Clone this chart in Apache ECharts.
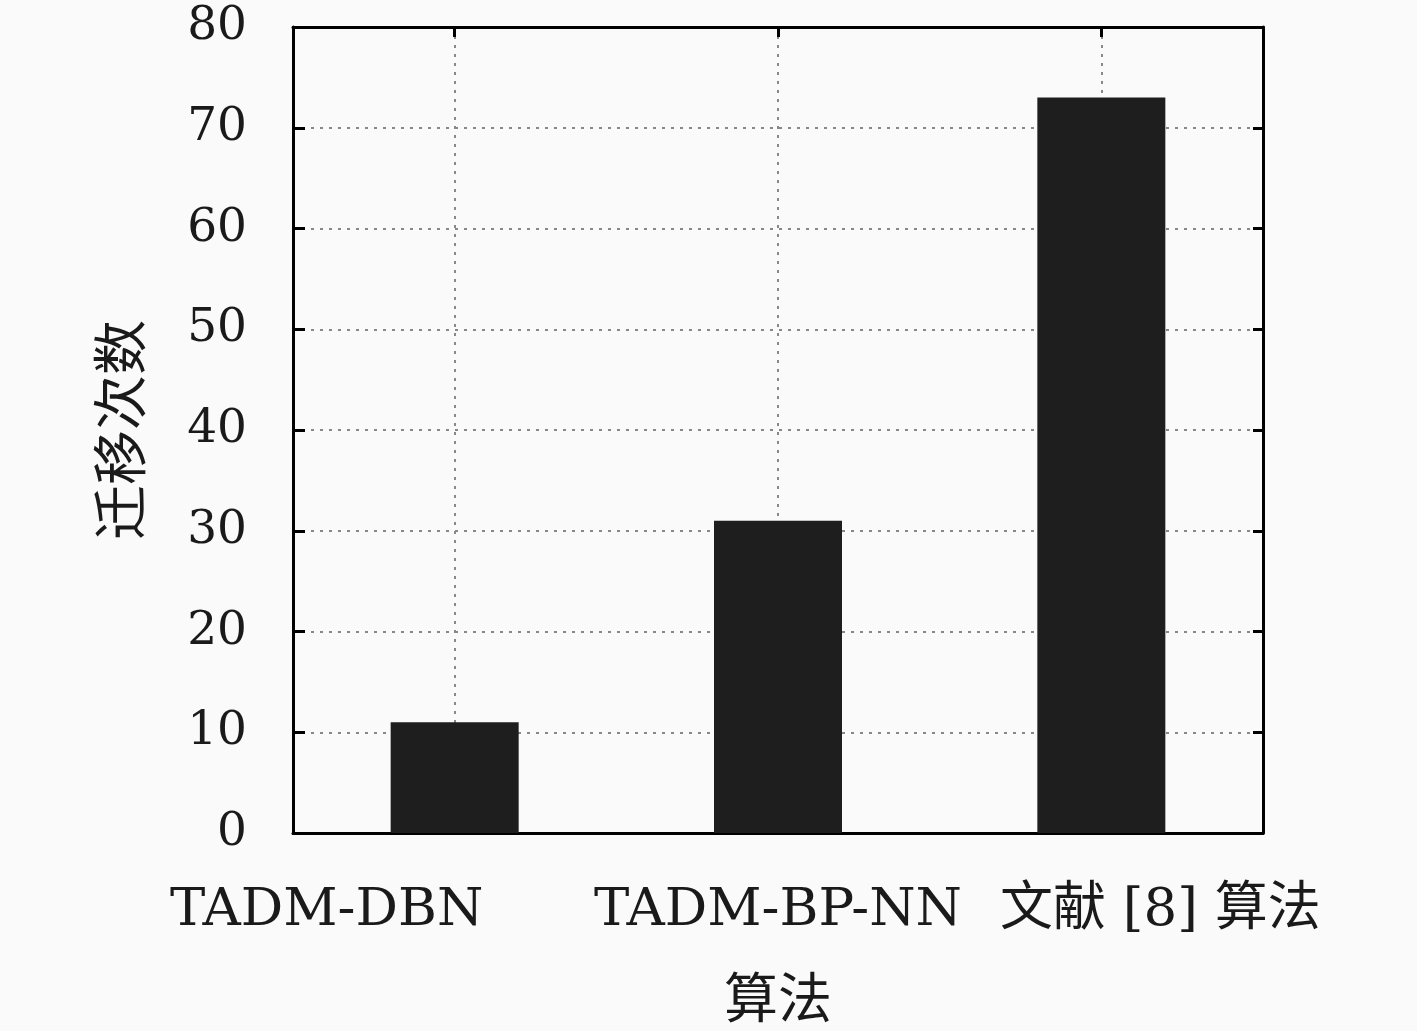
<!DOCTYPE html>
<html>
<head>
<meta charset="UTF-8">
<title>迁移次数</title>
<script src="https://cdn.jsdelivr.net/npm/echarts@6/dist/echarts.min.js"></script>
<style>
  html, body { margin: 0; padding: 0; background: #fafafa; }
  #chart { width: 1417px; height: 1031px; }
</style>
</head>
<body>
<div id="chart"></div>
<script>
// data
var categories = ['TADM-DBN', 'TADM-BP-NN', '文献 [8] 算法'];
var counts = [11, 31, 73];
var yTicks = [0, 80, 10]; // min, max, interval

var serif = '"DejaVu Serif", "Liberation Serif", "Noto Sans CJK SC", serif';

var chart = echarts.init(document.getElementById('chart'));

// nudge the outer labels the way the original figure places them
var labelPads = [[0, 256, 0, 0], [0, 0, 0, 0], [0, 0, 0, 118]];
var catData = categories.map(function (c, i) {
  return { value: c, textStyle: { padding: labelPads[i] } };
});

var option = {
  backgroundColor: '#fafafa',
  animation: false,
  grid: { left: 293, right: 154, top: 27, bottom: 198, outerBoundsMode: 'none', containLabel: false },
  xAxis: [{
    type: 'category',
    data: catData,
    name: '算法',
    nameLocation: 'middle',
    nameGap: 144,
    nameTextStyle: { fontFamily: serif, fontSize: 54, color: '#1a1a1a' },
    axisLine: { show: true, onZero: false, lineStyle: { color: '#000', width: 3 } },
    axisTick: { show: true, inside: true, alignWithLabel: true, length: 10, lineStyle: { color: '#000', width: 3 } },
    axisLabel: { interval: 0, margin: 52, fontFamily: serif, fontSize: 53, color: '#1a1a1a' },
    splitLine: { show: true, alignWithLabel: true, lineStyle: { color: '#888', type: [3, 6], width: 2 } }
  }, {
    type: 'category',
    position: 'top',
    data: categories,
    axisLine: { show: true, onZero: false, lineStyle: { color: '#000', width: 3 } },
    axisTick: { show: true, inside: true, alignWithLabel: true, length: 10, lineStyle: { color: '#000', width: 3 } },
    axisLabel: { show: false },
    splitLine: { show: false }
  }],
  yAxis: [{
    type: 'value',
    min: yTicks[0],
    max: yTicks[1],
    interval: yTicks[2],
    name: '迁移次数',
    nameLocation: 'middle',
    nameGap: 140,
    nameRotate: 90,
    nameTextStyle: { fontFamily: serif, fontSize: 55, color: '#1a1a1a' },
    axisLine: { show: true, onZero: false, lineStyle: { color: '#000', width: 3 } },
    axisTick: { show: true, inside: true, length: 12, lineStyle: { color: '#000', width: 3 } },
    axisLabel: { margin: 46, fontFamily: serif, fontSize: 47, color: '#1a1a1a' },
    splitLine: { show: true, lineStyle: { color: '#888', type: [3, 6], width: 2 } }
  }, {
    type: 'value',
    position: 'right',
    min: yTicks[0],
    max: yTicks[1],
    interval: yTicks[2],
    axisLine: { show: true, onZero: false, lineStyle: { color: '#000', width: 3 } },
    axisTick: { show: true, inside: true, length: 10, lineStyle: { color: '#000', width: 3 } },
    axisLabel: { show: false },
    splitLine: { show: false }
  }],
  series: [{
    type: 'bar',
    data: counts,
    barWidth: 128,
    itemStyle: { color: '#1e1e1e' },
    z: 1
  }]
};

chart.setOption(option);
</script>
</body>
</html>
